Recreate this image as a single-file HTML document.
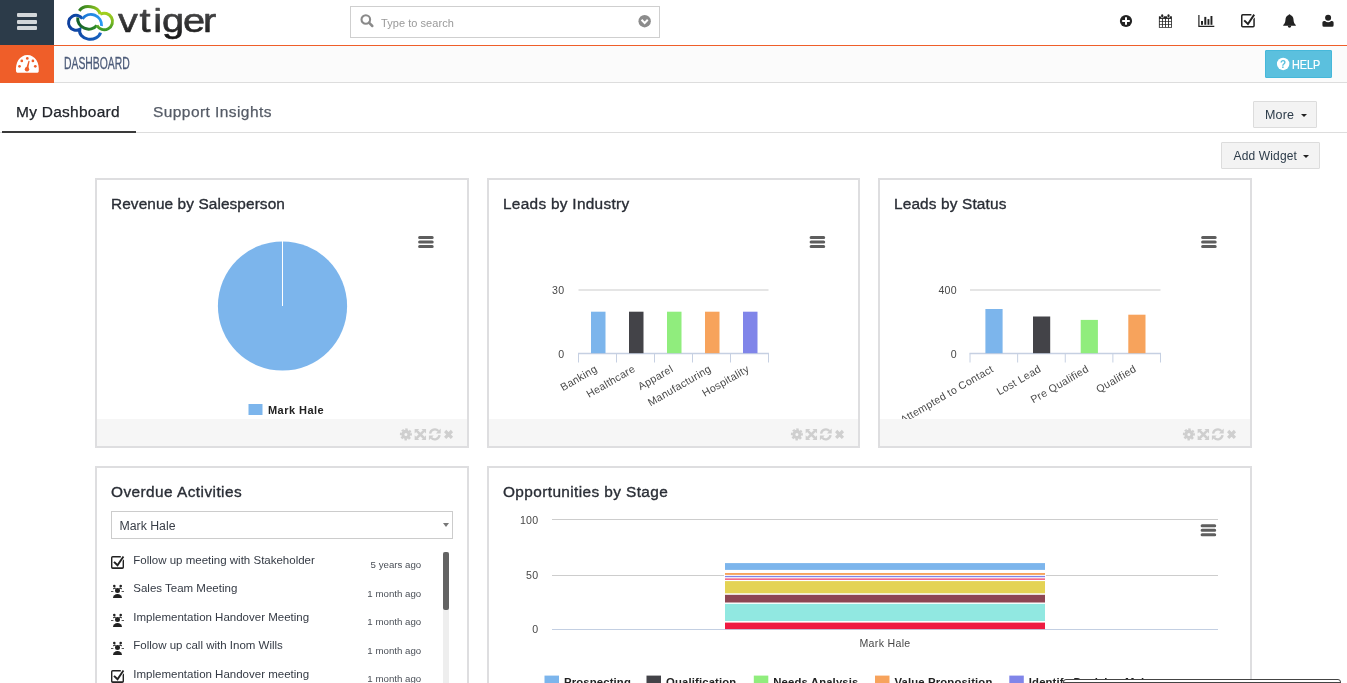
<!DOCTYPE html>
<html lang="en">
<head>
<meta charset="utf-8">
<title>Dashboard</title>
<style>
*{box-sizing:border-box;margin:0;padding:0}
html,body{width:1347px;height:683px;overflow:hidden;background:#fff}
body{position:relative;font-family:"Liberation Sans","DejaVu Sans",sans-serif;color:#333;font-size:13px}
.abs{position:absolute}
svg{display:block;overflow:visible}
/* top bar */
#menuBtn{left:0;top:0;width:54px;height:45px;background:#2c3b49}
#menuBtn i{position:absolute;left:17px;width:20px;height:4px;background:#d3d7da;border-radius:1px}
#topline{left:54px;top:45px;width:1293px;height:1px;background:#ef5e29}
#logo{left:64px;top:0}
#search{left:350px;top:6px;width:310px;height:32px;border:1px solid #cfcfcf;background:#fff}
#search span{position:absolute;left:30px;top:10px;font-size:11px;color:#999;letter-spacing:.05px}
/* second bar */
#modBar{left:0;top:46px;width:1347px;height:37px;background:#fbfbfb;border-bottom:1px solid #ddd}
#modIcon{left:0;top:45px;width:54px;height:38px;background:#ef5e29}
#modName{left:64px;top:54px;font-size:17px;line-height:20px;color:#4b5a78;transform-origin:0 50%;transform:scaleX(.61);white-space:nowrap;-webkit-text-stroke:.3px}
#help{left:1265px;top:50px;width:67px;height:28px;background:#5bc0de;border:1px solid #46b8da;border-radius:1px;color:#fff;font-size:13px}
/* tabs */
#tabline{left:0;top:132px;width:1347px;height:1px;background:#ddd}
#tabactive{left:2px;top:131px;width:134px;height:2px;background:#3a3a3a}
.tab{top:101.500px;font-size:15.500px;line-height:20px;white-space:nowrap;letter-spacing:.25px;-webkit-text-stroke:.25px}
.btn{border:1px solid #dcdcdc;background:#f3f3f3;border-radius:1px;font-size:12.500px;color:#2c3b49;white-space:nowrap}
.caret{display:block;width:0;height:0;border-left:3.500px solid transparent;border-right:3.500px solid transparent;border-top:3.500px solid #222}
/* widgets */
.widget{border:2px solid #dedee0;background:#fff;overflow:hidden}
.wtitle{position:absolute;left:14px;top:13.500px;font-size:15.400px;line-height:20px;color:#2a2e36;white-space:nowrap;letter-spacing:.09px;-webkit-text-stroke:.35px}
.wfoot{position:absolute;left:0;right:0;bottom:0;height:27px;background:#f6f6f6}
.wfoot svg{position:absolute;right:8px;top:5px}
.hm{position:absolute;top:57px}

#w4 .sel{position:absolute;left:14px;top:43px;width:342px;height:28px;border:1px solid #ccc;background:#fff}
#w4 .sel span{position:absolute;left:7.500px;top:6.200px;font-size:12.300px;line-height:16px;color:#3a3f48}
#w4 .sel i{position:absolute;left:330.500px;top:10.500px;width:0;height:0;border-left:3px solid transparent;border-right:3px solid transparent;border-top:4.500px solid #777}
#w4 .row{position:absolute;left:36.300px;font-size:11.500px;line-height:14px;color:#343a44;white-space:nowrap}
#w4 .tm{position:absolute;right:45.800px;font-size:9.700px;line-height:12px;color:#4a4f57;white-space:nowrap}
#w4 .ic{position:absolute;left:14px}
#w4 .sbt{position:absolute;left:346px;top:84px;width:6px;height:200px;background:#eee}
#w4 .sbh{position:absolute;left:346px;top:84px;width:6px;height:58px;background:#636363;border-radius:2px}
</style>
</head>
<body>
<svg width="0" height="0" style="position:absolute"><defs>
<g id="ficons" fill="#cfcfcf" stroke="none">
 <g transform="translate(10.900,10.400)"><circle r="3.050" fill="none" stroke="#cfcfcf" stroke-width="3.100"/><circle r="5.100" fill="none" stroke="#cfcfcf" stroke-width="1.900" stroke-dasharray="2.400 1.605" transform="rotate(-13.500)"/></g>
 <g transform="translate(25.350,10.400)"><path d="M-3.600,-3.600L3.600,3.600M3.600,-3.600L-3.600,3.600" stroke="#cfcfcf" stroke-width="2.500" fill="none"/><path d="M-5.700,-5.500h4.600l-4.600,4.600zM5.700,-5.500h-4.600l4.600,4.600zM-5.700,5.500h4.600l-4.600,-4.600zM5.700,5.500h-4.600l4.600,-4.600z"/></g>
 <g transform="translate(39.800,10.400)"><path d="M-4.700,-.8A4.800,4.800 0 0 1 3.600,-3.400" stroke="#cfcfcf" stroke-width="2.400" fill="none"/><path d="M4.700,.8A4.800,4.800 0 0 1 -3.600,3.400" stroke="#cfcfcf" stroke-width="2.400" fill="none"/><path d="M5.900,-5.800v4.800h-4.800zM-5.900,5.800v-4.800h4.800z"/></g>
 <g transform="translate(53.550,10.400)"><path d="M-3.400,-3.400L3.400,3.400M3.400,-3.400L-3.400,3.400" stroke="#cfcfcf" stroke-width="3.200" fill="none"/></g>
</g>
<g id="hmenu" stroke="#5e5e5e" stroke-width="3" stroke-linecap="round" fill="none"><path d="M1.800,1.800H14.400M1.800,6.300H14.400M1.800,10.800H14.400"/></g>
<g id="chk" fill="#222"><path d="M1.700,0h8.100v1.400h-8.100a.3,.3 0 0 0 -.3,.3v9.300a.3,.3 0 0 0 .3,.3h9.600a.3,.3 0 0 0 .3,-.3v-6.200l1.400,-1.500v7.900a1.700,1.700 0 0 1 -1.700,1.700h-9.600a1.700,1.700 0 0 1 -1.700,-1.700v-9.500a1.700,1.700 0 0 1 1.700,-1.700z"/><path d="M3.700,5.300l2.700,2.500l5.300,-7.800l1.500,1.100l-6.500,9.600l-4.400,-4.100z"/></g>
<g id="meet" fill="#222"><circle cx="6.500" cy="6.500" r="2.500"/><path d="M2,14a4.500,3.900 0 0 1 9,0z"/><circle cx="3.300" cy="2" r="1.300"/><circle cx="9.700" cy="2" r="1.300"/><path d="M2,4.600l1.200,-1.100l1.300,.2l.5,.9l-.9,.5l-.9,-.3l-.7,.6zM11,4.600l-1.200,-1.100l-1.300,.2l-.5,.9l.9,.5l.9,-.3l.7,.6zM0,6.900h2.400v.9h-2.400zM10.600,6.900h2.400v.9h-2.400z"/></g>
</defs></svg>
<!-- TOPBAR -->
<div class="abs" id="menuBtn"><i style="top:13px"></i><i style="top:20px"></i><i style="top:26px"></i></div>
<div class="abs" id="topline"></div>
<div class="abs" id="logo"><svg width="170" height="45" viewBox="64 0 170 45">
<defs>
<linearGradient id="g1" gradientUnits="userSpaceOnUse" x1="79" y1="0" x2="101" y2="0"><stop offset="0" stop-color="#2a7a20"/><stop offset=".5" stop-color="#5fa322"/><stop offset="1" stop-color="#a2d01e"/></linearGradient>
<linearGradient id="g2" gradientUnits="userSpaceOnUse" x1="0" y1="13" x2="0" y2="30"><stop offset="0" stop-color="#a2d01e"/><stop offset=".5" stop-color="#7dba22"/><stop offset="1" stop-color="#3b9828"/></linearGradient>
<linearGradient id="g3" gradientUnits="userSpaceOnUse" x1="97" y1="0" x2="78" y2="0"><stop offset="0" stop-color="#2f8c29"/><stop offset="1" stop-color="#14602a"/></linearGradient>
<linearGradient id="b1" gradientUnits="userSpaceOnUse" x1="68" y1="0" x2="101" y2="0"><stop offset="0" stop-color="#0e3f9d"/><stop offset="1" stop-color="#1763c0"/></linearGradient>
<linearGradient id="b2" gradientUnits="userSpaceOnUse" x1="82" y1="0" x2="102" y2="0"><stop offset="0" stop-color="#1a74d3"/><stop offset="1" stop-color="#2a9af3"/></linearGradient>
<linearGradient id="gT" x1="0" y1="0" x2="0" y2="1"><stop offset="0" stop-color="#5a5a5c"/><stop offset="1" stop-color="#141414"/></linearGradient>
</defs>
<g fill="none" stroke-width="3">
<path d="M82.400,18.800 A7.500,7.500 0 1 0 79.800,29.300 A10.400,8.200 0 0 0 100.500,32.600" stroke="url(#b1)" stroke-linejoin="miter"/>
<path d="M82.400,18.800 A10.600,10.600 0 0 1 101.500,26" stroke="url(#b2)"/>
<path d="M96.900,25.400 A10.600,9.400 15 0 1 77.800,17.500" stroke="url(#g3)"/>
<path d="M100.200,14.200 A8.300,8.300 0 1 1 96.900,25.400" stroke="url(#g2)"/>
<path d="M79.300,10.900 A11.200,8.600 8 0 1 100.200,14.200" stroke="url(#g1)"/>
</g>
<text transform="translate(117.200,31.800) scale(1.170,1)" dx="0.7 0.8 1.9 -0.7 -1.3 -2.3" font-family="Liberation Sans, DejaVu Sans, sans-serif" font-size="34" letter-spacing=".5" fill="url(#gT)" stroke="url(#gT)" stroke-width=".6" stroke-linejoin="round">vtiger</text>
</svg></div>
<div class="abs" id="search"><svg class="abs" style="left:8px;top:6px" width="17" height="17" viewBox="0 0 17 17"><circle cx="6.800" cy="6.500" r="4.300" fill="none" stroke="#8a8a8a" stroke-width="2.100"/><path d="M10,9.700 L13.300,13" stroke="#8a8a8a" stroke-width="2.500" stroke-linecap="round"/></svg>
<svg class="abs" style="left:286px;top:7px" width="15" height="15" viewBox="0 0 15 15"><circle cx="7.650" cy="7.200" r="6.200" fill="#8c8c8c"/><path d="M4.550,5.800 L7.650,9 L10.750,5.800" fill="none" stroke="#fff" stroke-width="2"/></svg><span>Type to search</span></div>
<svg class="abs" style="left:1110px;top:8px" width="237" height="28" viewBox="1110 8 237 28">
<g fill="#222">
<!-- plus circle -->
<circle cx="1126" cy="21" r="6.1"/>
<path d="M1125,17.2h2v2.8h2.8v2h-2.8v2.8h-2v-2.8h-2.8v-2h2.8z" fill="#fff"/>
<!-- calendar -->
<path d="M1158.900,16.300h13v11.500h-13z"/>
<g fill="#fff"><rect x="1160.700" y="13.700" width="3" height="4.200" rx="1.500"/><rect x="1167" y="13.700" width="3" height="4.200" rx="1.500"/><rect x="1159.75" y="18.90" width="2.2" height="2.3"/><rect x="1162.80" y="18.90" width="2.2" height="2.3"/><rect x="1165.85" y="18.90" width="2.2" height="2.3"/><rect x="1168.90" y="18.90" width="2.2" height="2.3"/><rect x="1159.75" y="21.85" width="2.2" height="2.3"/><rect x="1162.80" y="21.85" width="2.2" height="2.3"/><rect x="1165.85" y="21.85" width="2.2" height="2.3"/><rect x="1168.90" y="21.85" width="2.2" height="2.3"/><rect x="1159.75" y="24.80" width="2.2" height="2.3"/><rect x="1162.80" y="24.80" width="2.2" height="2.3"/><rect x="1165.85" y="24.80" width="2.2" height="2.3"/><rect x="1168.90" y="24.80" width="2.2" height="2.3"/></g>
<rect x="1161.200" y="14.200" width="2" height="3.300" rx="1"/><rect x="1167.500" y="14.200" width="2" height="3.300" rx="1"/>
<!-- bar chart -->
<path d="M1198.300,14.900h1.200v10.900h14.800v1.100h-16z"/>
<rect x="1201" y="21" width="2" height="3.800"/><rect x="1204.300" y="16.900" width="2" height="7.900"/><rect x="1207.500" y="19.100" width="1.900" height="5.700"/><rect x="1210.500" y="16" width="1.900" height="8.800"/>
<!-- check square -->
<path d="M1242.800,14.100h8.600v1.500h-8.600a.3,.3 0 0 0 -.3,.3v9.800a.3,.3 0 0 0 .3,.3h10.200a.3,.3 0 0 0 .3,-.3v-6.600l1.500,-1.600v8.300a1.700,1.700 0 0 1 -1.700,1.700h-10.400a1.700,1.700 0 0 1 -1.700,-1.700v-10a1.700,1.700 0 0 1 1.700,-1.700z"/>
<path d="M1244.900,19.700l2.900,2.700l5.600,-8.300l1.600,1.200l-6.900,10.100l-4.600,-4.300z"/>
<!-- bell -->
<path d="M1289.500,14.200c.5,0 .8,.3 .9,.8c2,.6 3,2.300 3.100,4.500c.1,2.600 .8,4.300 2.300,5.500v.8h-12.600v-.8c1.500,-1.200 2.200,-2.900 2.300,-5.500c.1,-2.200 1.100,-3.900 3.100,-4.500c.1,-.5 .4,-.8 .9,-.8z"/>
<path d="M1287.800,25.600h3.400v.4a1.700,1.700 0 0 1 -3.400,0z"/>
<!-- user -->
<circle cx="1328.100" cy="17.700" r="3"/>
<path d="M1324.200,20.900h.9a3.800,3.800 0 0 0 6,0h.9a1.600,1.600 0 0 1 1.600,1.600v2.700a1.500,1.500 0 0 1 -1.500,1.500h-8.200a1.500,1.500 0 0 1 -1.500,-1.500v-2.700a1.600,1.600 0 0 1 1.600,-1.600z"/>
</g></svg>
<!-- MODULE BAR -->
<div class="abs" id="modBar"></div>
<div class="abs" id="modIcon"><svg class="abs" style="left:14px;top:8px" width="27" height="22" viewBox="14 53 27 22">
<path d="M17.300,72.700 Q16.200,72.700 16.100,71.600 C14.900,63 19.700,55 27.400,55 C35.100,55 39.900,63 38.700,71.600 Q38.600,72.700 37.500,72.700 Z" fill="#fff"/>
<g fill="#ef5e29"><circle cx="19.500" cy="66.300" r="1.350"/><circle cx="21.800" cy="60.900" r="1.350"/><circle cx="27.300" cy="58.400" r="1.350"/><circle cx="32.900" cy="60.900" r="1.350"/><circle cx="35.300" cy="66.300" r="1.350"/>
<circle cx="27" cy="69.300" r="2.200"/><path d="M26.100,68.600 L28.500,60.800 L29.600,61.100 L28.100,69.400z"/></g></svg></div>
<div class="abs" id="modName">DASHBOARD</div>
<div class="abs" id="help"><svg class="abs" style="left:10px;top:6px" width="15" height="15" viewBox="0 0 15 15"><circle cx="7.150" cy="6.950" r="6.200" fill="#fff"/><text x="7.150" y="10.500" text-anchor="middle" font-family="Liberation Sans, sans-serif" font-weight="bold" font-size="10" fill="#5bc0de">?</text></svg><span style="position:absolute;left:26.300px;top:6px;line-height:16px;font-size:12.200px;transform-origin:0 50%;transform:scaleX(.89);-webkit-text-stroke:.2px">HELP</span></div>
<!-- TABS -->
<div class="abs" id="tabline"></div>
<div class="abs" id="tabactive"></div>
<div class="abs tab" style="left:16px;color:#22252b">My Dashboard</div>
<div class="abs tab" style="left:153px;color:#555b66;letter-spacing:.43px">Support Insights</div>
<div class="abs btn" style="left:1253px;top:101px;width:64px;height:27px"><span class="abs" style="left:11px;top:4.500px;line-height:16px;letter-spacing:.15px">More</span><span class="abs caret" style="left:47px;top:12px"></span></div>
<div class="abs btn" style="left:1221px;top:142px;width:99px;height:27px"><span class="abs" style="left:11.500px;top:4.500px;line-height:16px;letter-spacing:.15px;font-size:12px">Add Widget</span><span class="abs caret" style="left:81px;top:12px"></span></div>
<!-- WIDGETS -->
<div class="abs widget" id="w1" style="left:95px;top:178px;width:374px;height:270px"><div class="wtitle">Revenue by Salesperson</div><svg class="abs" style="left:0;top:0" width="370" height="266" viewBox="97 180 370 266">
<circle cx="282.500" cy="306" r="64.600" fill="#7cb5ec"/>
<path d="M282.500,306V241" stroke="#fff" stroke-width="1"/>
<rect x="248.500" y="404" width="14" height="11" fill="#7cb5ec"/>
<text x="268" y="413.500" font-family="Liberation Sans, DejaVu Sans, sans-serif" font-weight="bold" font-size="11" fill="#222" letter-spacing=".45">Mark Hale</text>
<use href="#hmenu" x="417.800" y="235.700"/>
</svg><div class="wfoot"><svg width="64" height="20" viewBox="0 0 64 20"><use href="#ficons"/></svg></div></div>
<div class="abs widget" id="w2" style="left:487px;top:178px;width:373px;height:270px"><div class="wtitle" style="letter-spacing:.29px">Leads by Industry</div><svg class="abs" style="left:0;top:0" width="369" height="266" viewBox="489 180 369 266">
<path d="M578.500,290H768.500" stroke="#dcdcdc" stroke-width="1.300"/>
<path d="M578,353.500H769" stroke="#c6d0e2" stroke-width="1.300"/>
<path d="M578.5,353.500V362.500M616.5,353.500V362.500M654.5,353.500V362.500M692.5,353.500V362.500M730.5,353.500V362.500M768.5,353.500V362.500" stroke="#c6d0e2" stroke-width="1"/>
<rect x="591.0" y="311.700" width="14.500" height="41.500" fill="#7cb5ec"/>
<rect x="629.0" y="311.700" width="14.500" height="41.500" fill="#434348"/>
<rect x="667.0" y="311.700" width="14.500" height="41.500" fill="#90ed7d"/>
<rect x="705.0" y="311.700" width="14.500" height="41.500" fill="#f7a35c"/>
<rect x="743.0" y="311.700" width="14.500" height="41.500" fill="#8085e9"/>
<g font-family="Liberation Sans, DejaVu Sans, sans-serif" font-size="10.600" fill="#484848" letter-spacing=".3">
<text x="564.500" y="294" text-anchor="end">30</text><text x="564.500" y="357.500" text-anchor="end">0</text>
<text transform="translate(598.0,371) rotate(-30)" text-anchor="end">Banking</text>
<text transform="translate(636.0,371) rotate(-30)" text-anchor="end">Healthcare</text>
<text transform="translate(674.0,371) rotate(-30)" text-anchor="end">Apparel</text>
<text transform="translate(712.0,371) rotate(-30)" text-anchor="end">Manufacturing</text>
<text transform="translate(750.0,371) rotate(-30)" text-anchor="end">Hospitality</text>
</g>
<use href="#hmenu" x="809.300" y="235.700"/>
</svg><div class="wfoot"><svg width="64" height="20" viewBox="0 0 64 20"><use href="#ficons"/></svg></div></div>
<div class="abs widget" id="w3" style="left:878px;top:178px;width:374px;height:270px"><div class="wtitle" style="letter-spacing:.14px">Leads by Status</div><svg class="abs" style="left:0;top:0" width="370" height="266" viewBox="880 180 370 266">
<path d="M970,290H1160.500" stroke="#dcdcdc" stroke-width="1.300"/>
<path d="M969.500,353.500H1161" stroke="#c6d0e2" stroke-width="1.300"/>
<path d="M970.00,353.500V362.500M1017.63,353.500V362.500M1065.26,353.500V362.500M1112.89,353.500V362.500M1160.52,353.500V362.500" stroke="#c6d0e2" stroke-width="1"/>
<rect x="985.4" y="309.0" width="17.200" height="44.2" fill="#7cb5ec"/>
<rect x="1033.0" y="316.5" width="17.200" height="36.7" fill="#434348"/>
<rect x="1080.7" y="319.9" width="17.200" height="33.3" fill="#90ed7d"/>
<rect x="1128.3" y="314.7" width="17.200" height="38.5" fill="#f7a35c"/>
<g font-family="Liberation Sans, DejaVu Sans, sans-serif" font-size="10.600" fill="#484848" letter-spacing=".3">
<text x="957" y="294" text-anchor="end">400</text><text x="957" y="357.500" text-anchor="end">0</text>
<text transform="translate(994.3,371) rotate(-30)" text-anchor="end">Attempted to Contact</text>
<text transform="translate(1041.9,371) rotate(-30)" text-anchor="end">Lost Lead</text>
<text transform="translate(1089.6,371) rotate(-30)" text-anchor="end">Pre Qualified</text>
<text transform="translate(1137.2,371) rotate(-30)" text-anchor="end">Qualified</text>
</g>
<use href="#hmenu" x="1200.800" y="235.700"/>
</svg><div class="wfoot"><svg width="64" height="20" viewBox="0 0 64 20"><use href="#ficons"/></svg></div></div>
<div class="abs widget" id="w4" style="left:95px;top:466px;width:374px;height:269px"><div class="wtitle" style="letter-spacing:.44px">Overdue Activities</div><div class="sel"><span>Mark Hale</span><i></i></div>
<svg class="ic" style="top:87.9px" width="14" height="15" viewBox="0 0 14 15"><use href="#chk"/></svg><div class="row" style="top:85.2px">Follow up meeting with Stakeholder</div><div class="tm" style="top:91.2px">5 years ago</div>
<svg class="ic" style="top:116.4px" width="14" height="15" viewBox="0 0 14 15"><use href="#meet"/></svg><div class="row" style="top:113px">Sales Team Meeting</div><div class="tm" style="top:119.7px">1 month ago</div>
<svg class="ic" style="top:144.8px" width="14" height="15" viewBox="0 0 14 15"><use href="#meet"/></svg><div class="row" style="top:142.0px">Implementation Handover Meeting</div><div class="tm" style="top:148.2px">1 month ago</div>
<svg class="ic" style="top:173.2px" width="14" height="15" viewBox="0 0 14 15"><use href="#meet"/></svg><div class="row" style="top:170.4px">Follow up call with Inom Wills</div><div class="tm" style="top:176.7px">1 month ago</div>
<svg class="ic" style="top:201.5px" width="14" height="15" viewBox="0 0 14 15"><use href="#chk"/></svg><div class="row" style="top:198.8px">Implementation Handover meeting</div><div class="tm" style="top:205.2px">1 month ago</div>
<div class="sbt"></div><div class="sbh"></div></div>
<div class="abs widget" id="w5" style="left:487px;top:466px;width:765px;height:269px"><div class="wtitle" style="letter-spacing:.39px">Opportunities by Stage</div><svg class="abs" style="left:0;top:0" width="761" height="266" viewBox="489 468 761 266">
<path d="M552,519.500H1218M552,575.500H1218" stroke="#cdcdcd" stroke-width="1"/>
<path d="M552,629.500H1218" stroke="#c3cfe2" stroke-width="1.200"/>
<rect x="724" y="562" width="322" height="67" fill="#fff"/>
<rect x="725" y="563.1" width="320" height="6.8" fill="#7cb5ec"/>
<rect x="725" y="573.0" width="320" height="1.9" fill="#f7a35c"/>
<rect x="725" y="575.9" width="320" height="1.3" fill="#8085e9"/>
<rect x="725" y="578.4" width="320" height="1.5" fill="#f15c80"/>
<rect x="725" y="581.1" width="320" height="12.2" fill="#e4d354"/>
<rect x="725" y="594.8" width="320" height="7.7" fill="#8d4653"/>
<rect x="725" y="603.9" width="320" height="17.1" fill="#91e8e1"/>
<rect x="725" y="622.6" width="320" height="6.5" fill="#ee1c42"/>
<g font-family="Liberation Sans, DejaVu Sans, sans-serif" font-size="10.600" fill="#484848" letter-spacing=".3"><text x="538.500" y="523.500" text-anchor="end">100</text><text x="538.500" y="579.300" text-anchor="end">50</text><text x="538.500" y="633.300" text-anchor="end">0</text><text x="885" y="647.200" text-anchor="middle">Mark Hale</text></g>
<g font-family="Liberation Sans, DejaVu Sans, sans-serif" font-size="11.300" font-weight="bold" fill="#222" letter-spacing=".15">
<rect x="544.5" y="675.600" width="14.500" height="12" fill="#7cb5ec"/><text x="564.0" y="686.100">Prospecting</text>
<rect x="646.5" y="675.600" width="14.500" height="12" fill="#434348"/><text x="666.0" y="686.100">Qualification</text>
<rect x="753.8" y="675.600" width="14.500" height="12" fill="#90ed7d"/><text x="773.3" y="686.100">Needs Analysis</text>
<rect x="875.0" y="675.600" width="14.500" height="12" fill="#f7a35c"/><text x="894.5" y="686.100">Value Proposition</text>
<rect x="1009.3" y="675.600" width="14.500" height="12" fill="#8085e9"/><text x="1028.8" y="686.100">Identify Decision Makers</text>
</g>
<use href="#hmenu" x="1200.300" y="524"/>
</svg></div>
<div class="abs" style="left:1063px;top:679px;width:278px;height:10px;border:1px solid #444;border-radius:3px 3px 0 0;background:#fff"><div style="position:absolute;left:0;right:0;top:2px;height:6px;background:#444"></div></div>
</body>
</html>
